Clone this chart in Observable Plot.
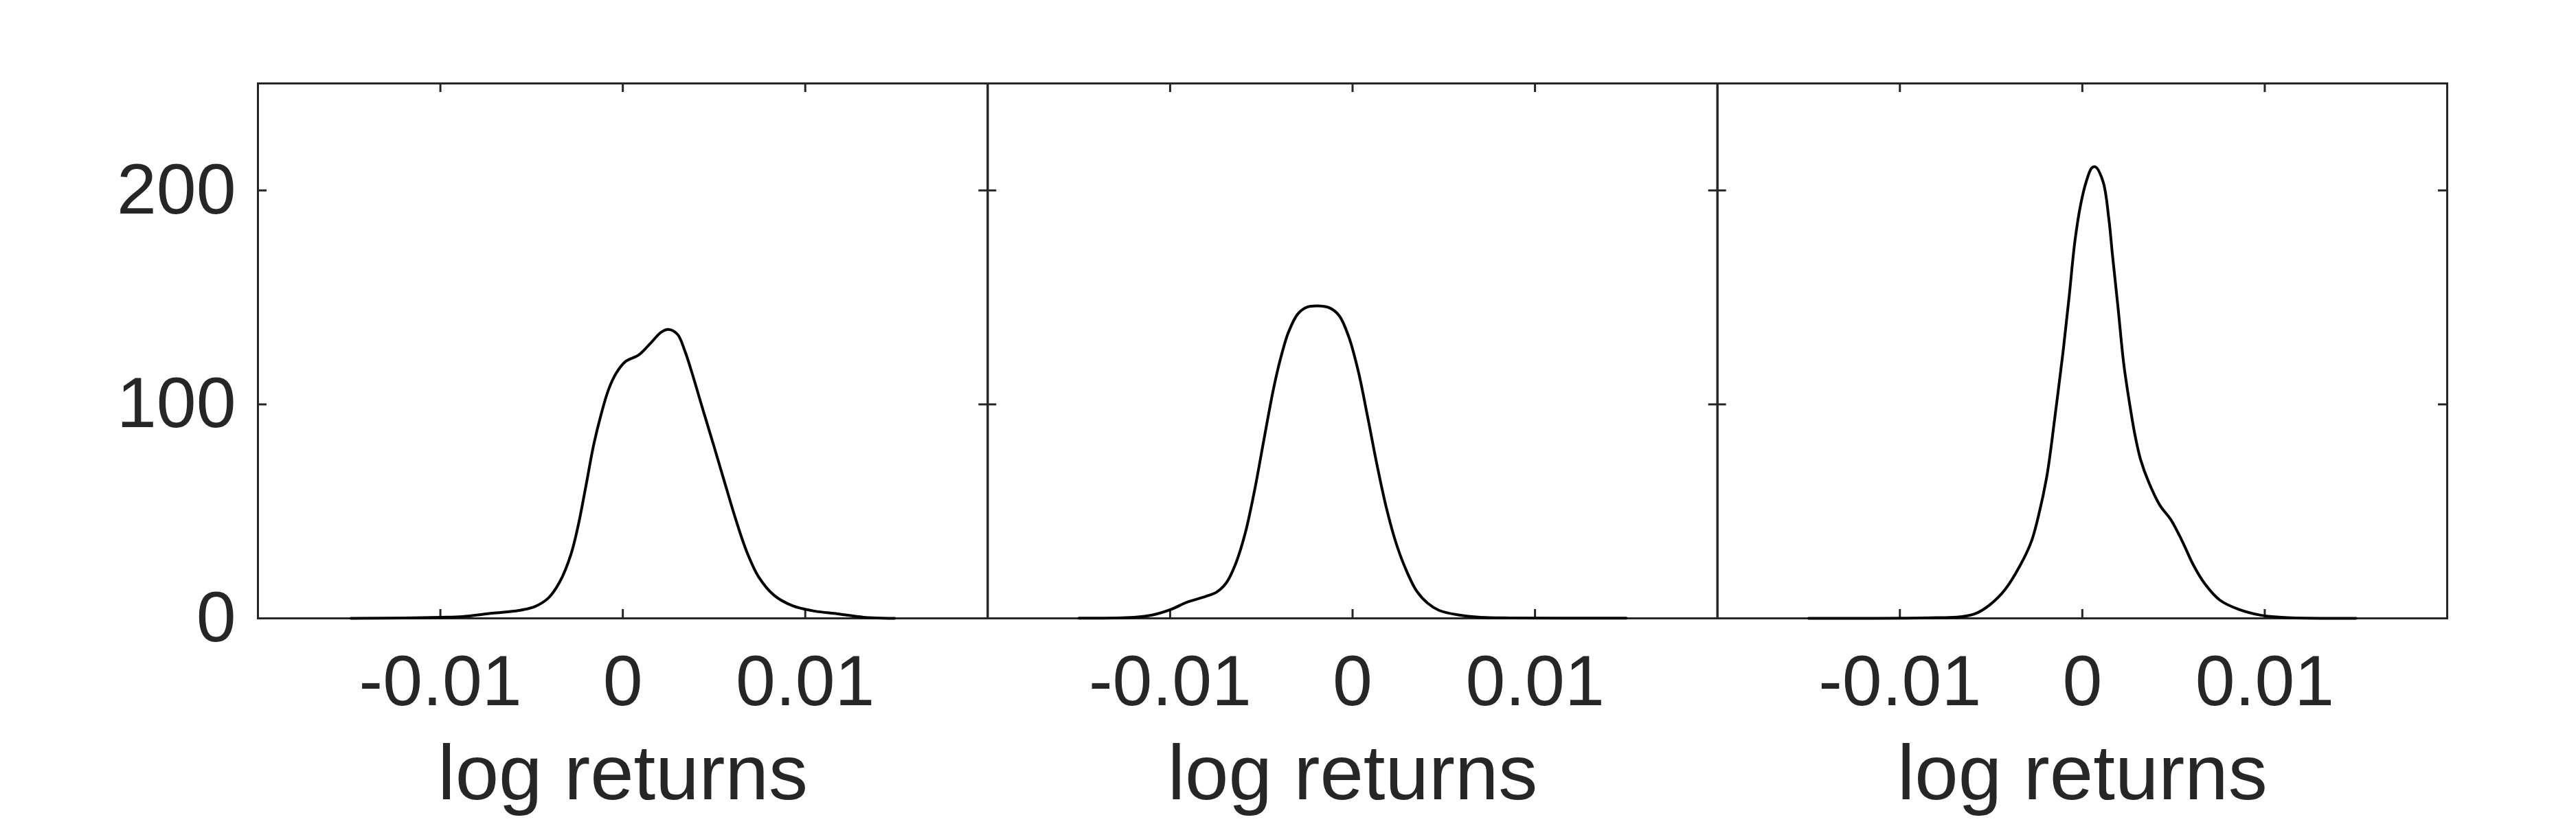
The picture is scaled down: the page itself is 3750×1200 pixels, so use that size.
<!DOCTYPE html>
<html>
<head>
<meta charset="utf-8">
<script src="https://cdn.jsdelivr.net/npm/d3@7"></script>
<script src="https://cdn.jsdelivr.net/npm/@observablehq/plot@0.6"></script>
<style>
  html, body { margin: 0; padding: 0; background: #fff; }
</style>
</head>
<body>
<div id="chart"></div>
<script>
// ---- data ----
const panels = ["A", "B", "C"];
const xTicks = [-0.01, 0, 0.01];
const yTicks = [0, 100, 200];
const xLabel = "log returns";

const x1 = [-0.0149, -0.0120, -0.0100, -0.0088, -0.00716, -0.0057, -0.0048, -0.00407, -0.00346, -0.00284, -0.00243, -0.00202, -0.0016, -0.0012, -0.00078, -0.00037, 0.00014, 0.00086, 0.0015, 0.0021, 0.0025, 0.003, 0.0034, 0.0038, 0.00436, 0.005, 0.0056, 0.0062, 0.0068, 0.00745, 0.0083, 0.0093, 0.0105, 0.01177, 0.0132, 0.0149];
const y1 = [0, 0.2, 0.5, 0.8, 2.4, 3.7, 5.6, 9.6, 17, 30, 44, 62, 81, 95, 107, 114.5, 120, 123, 128.4, 133.7, 135, 132.7, 125, 114.5, 98.4, 80.3, 63, 46, 31, 19.3, 10.7, 5.9, 3.4, 2.1, 0.5, 0];

const x2 = [-0.0150, -0.01198, -0.01095, -0.00992, -0.00909, -0.00806, -0.00744, -0.00692, -0.0064, -0.00589, -0.00537, -0.00486, -0.00434, -0.00393, -0.00351, -0.003, -0.00248, -0.00186, -0.00124, -0.00072, -0.00021, 0.00031, 0.00083, 0.00134, 0.00186, 0.00238, 0.00289, 0.00351, 0.00413, 0.00475, 0.00579, 0.00702, 0.00868, 0.0150];
const y2 = [0.1, 0.5, 1.6, 4.3, 7.5, 10.2, 12.3, 16.6, 25.7, 39.6, 59.9, 83.5, 107, 122, 133.8, 142.3, 145.5, 146, 145, 141.3, 131.6, 115.6, 94, 71.7, 51.4, 35.3, 23.5, 12.8, 7, 3.7, 1.6, 0.5, 0.2, 0.1];

const x3 = [-0.0150, -0.00795, -0.00671, -0.00589, -0.00506, -0.00424, -0.00341, -0.00279, -0.00238, -0.00196, -0.00176, -0.00155, -0.00134, -0.00103, -0.00072, -0.00041, -0.0001, 0.00021, 0.00052, 0.00072, 0.00114, 0.00145, 0.00165, 0.00196, 0.00227, 0.00258, 0.00289, 0.0032, 0.00362, 0.00424, 0.00486, 0.00548, 0.0061, 0.00671, 0.00754, 0.00857, 0.00981, 0.01126, 0.0150];
const y3 = [0, 0.3, 0.7, 2.1, 6.4, 13.4, 24.7, 36, 48.7, 65.7, 77, 91, 105, 126.5, 150.5, 176, 193, 204, 210.5, 211, 204, 187, 170, 145, 119, 101, 85.5, 74, 64, 53, 46, 36, 24.7, 16.2, 8.5, 4.2, 1.4, 0.3, 0];

// ---- build table ----
const series = [[x1, y1], [x2, y2], [x3, y3]];
const rows = [];
series.forEach(([xs, ys], i) => xs.forEach((x, j) => rows.push({panel: panels[i], x, y: ys[j]})));
const labels = panels.map(p => ({panel: p, text: xLabel}));

const W = 3750, H = 1200;
const mTop = 121, mBottom = 300, mLeft = 375, mRight = 188;
const innerH = H - mTop - mBottom;
const tickLen = 13;
const axisColor = "#262626";
const font = "'Liberation Sans', Arial, Helvetica, sans-serif";

const chart = Plot.plot({
  width: W,
  height: H,
  marginTop: mTop,
  marginBottom: mBottom,
  marginLeft: mLeft,
  marginRight: mRight,
  style: {fontFamily: font, color: axisColor, background: "#fff"},
  fx: {domain: panels, padding: 0, round: false, axis: null, label: null},
  x: {domain: [-0.02, 0.02], label: null},
  y: {domain: [0, 250], label: null},
  marks: [
    Plot.frame({stroke: axisColor, strokeWidth: 3}),
    // inward ticks: bottom / top
    Plot.tickX(xTicks, {x: d => d, stroke: axisColor, strokeWidth: 3, insetTop: innerH - tickLen}),
    Plot.tickX(xTicks, {x: d => d, stroke: axisColor, strokeWidth: 3, insetBottom: innerH - tickLen}),
    // inward ticks: left / right
    Plot.tickY(yTicks, {y: d => d, stroke: axisColor, strokeWidth: 3, insetRight: (W - mLeft - mRight) / 3 - tickLen}),
    Plot.tickY(yTicks, {y: d => d, stroke: axisColor, strokeWidth: 3, insetLeft: (W - mLeft - mRight) / 3 - tickLen}),
    Plot.axisX(xTicks, {
      tickSize: 0, tickPadding: 53, fontSize: 104, fill: axisColor,
      tickFormat: d => d === 0 ? "0" : String(d), label: null
    }),
    Plot.axisY(yTicks, {
      tickSize: 0, tickPadding: 32, fontSize: 104, fill: axisColor,
      tickFormat: d => String(d), label: null
    }),
    Plot.text(labels, {
      fx: "panel", text: "text", frameAnchor: "bottom", lineAnchor: "bottom",
      dy: 263, fontSize: 114, fill: axisColor
    }),
    Plot.line(rows, {fx: "panel", x: "x", y: "y", stroke: "#000", strokeWidth: 4, curve: "catmull-rom"})
  ]
});
document.getElementById("chart").appendChild(chart);
</script>
</body>
</html>
